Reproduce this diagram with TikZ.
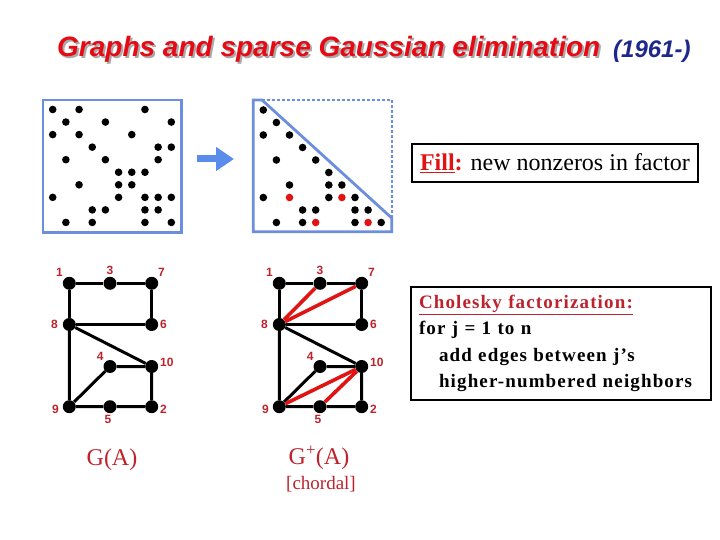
\documentclass[tikz,border=0pt]{standalone}
\usepackage{xcolor}
\usepackage{fontspec}
\setmainfont{Liberation Serif}
\setsansfont{Liberation Sans}
\newfontfamily\spacedserif[LetterSpace=6]{Liberation Serif}
\usetikzlibrary{arrows.meta,positioning,calc}
\definecolor{titlered}{RGB}{230, 10, 20}
\definecolor{shadowgray}{RGB}{170, 170, 170}
\definecolor{yearnavy}{RGB}{30, 40, 140}
\definecolor{labelred}{RGB}{190, 35, 45}
\definecolor{framblue}{RGB}{108, 142, 222}
\definecolor{arrowblue}{RGB}{90, 140, 235}
\definecolor{fillred}{RGB}{225, 20, 20}

\begin{document}
\begin{tikzpicture}[x=1pt, y=-1pt,
  vtx/.style={circle, fill=black, minimum size=13pt, inner sep=0pt},
  lbl/.style={font=\sffamily\bfseries\fontsize{12}{12}\selectfont, text=labelred, inner sep=1.5pt},
  edge/.style={line width=3pt, draw=black},
  filledge/.style={line width=3.6pt, draw=fillred},
  matbox/.style={rectangle, draw=framblue, line width=2.8pt, inner sep=0pt},
  matline/.style={draw=framblue, line width=2.8pt},
  notebox/.style={rectangle, draw=black, line width=2pt, inner sep=8pt},
  gname/.style={font=\fontsize{24}{26}\selectfont, text=labelred},
  bigarrow/.style={-{Triangle[length=18pt, width=23pt]}, line width=7pt, draw=arrowblue}
]
\useasboundingbox (0,0) rectangle (720,540);

% Title
\node[anchor=base west, inner sep=0pt, text=shadowgray, font=\sffamily\bfseries\itshape\fontsize{28}{30}\selectfont] (ttlsh) at (59,59) {Graphs and sparse Gaussian elimination};
\node[anchor=base west, inner sep=0pt, text=titlered, font=\sffamily\bfseries\itshape\fontsize{28}{30}\selectfont] (ttl) at (57,57) {Graphs and sparse Gaussian elimination};
\node[anchor=base west, inner sep=0pt, text=yearnavy, font=\sffamily\bfseries\itshape\fontsize{24}{26}\selectfont] (yr) at (613,58) {(1961-)};

% Matrix A
\node[matbox, minimum width=138.5pt, minimum height=132.5pt] (amat) at (112.25,166.25) {};
\foreach \r/\cols in {1/{1,3,8}, 2/{2,5,10}, 3/{1,3,7}, 4/{4,9,10}, 5/{2,5,9},
                      6/{6,7,8}, 7/{3,6,7}, 8/{1,6,8,9,10}, 9/{4,5,8,9}, 10/{2,4,8,10}}
  \foreach \c in \cols
    \fill (52.7+13.18*\c-13.18, 109.5+12.55*\r-12.55) circle (3.8pt);

% Factor L (lower triangle)
\draw[matline] (253.3,100) -- (262,100) -- (391.7,218) -- (391.7,231.7) -- (253.3,231.7) -- cycle;
\draw[matline, line width=2.4pt, dash pattern=on 3pt off 2pt] (262,100) -- (391.7,100) -- (391.7,218);
\foreach \r/\cols in {1/{1}, 2/{2}, 3/{1,3}, 4/{4}, 5/{2,5}, 6/{6}, 7/{3,6,7},
                      8/{1,6,8}, 9/{4,5,8,9}, 10/{2,4,8,10}}
  \foreach \c in \cols
    \fill (263.3+13.1*\c-13.1, 110+12.5*\r-12.5) circle (3.8pt);
\foreach \r/\c in {8/3, 8/7, 10/5, 10/9}
  \fill[fillred] (263.3+13.1*\c-13.1, 110+12.5*\r-12.5) circle (3.8pt);

% Arrow A -> L
\coordinate (arrs) at (197,159);
\coordinate (arre) at (234,159);
\draw[bigarrow] (arrs) -- (arre);

% Fill note
\node[notebox, minimum width=284pt, minimum height=38pt] (fill) at (555,163)
  {\fontsize{24}{26}\selectfont\textcolor{fillred}{\textbf{\underline{Fill}:}} new nonzeros in factor};

% Graphs G(A) and G+(A)
\foreach \g/\dx in {a/0, f/210}{
  \node[vtx, label={[lbl]above left:1}] (\g1) at (69.3+\dx,283.3) {};
  \node[vtx, label={[lbl]above:3}] (\g3) at (110+\dx,283.3) {};
  \node[vtx, label={[lbl]above right:7}] (\g7) at (151.7+\dx,283.3) {};
  \node[vtx, label={[lbl, xshift=-3pt]left:8}] (\g8) at (69.3+\dx,324.5) {};
  \node[vtx, label={[lbl]right:6}] (\g6) at (151.7+\dx,324.5) {};
  \node[vtx, label={[lbl]above left:4}] (\g4) at (110+\dx,366.5) {};
  \node[vtx, label={[lbl, yshift=4pt]right:10}] (\g10) at (151.7+\dx,366.5) {};
  \node[vtx, label={[lbl, yshift=-3pt, xshift=-2pt]left:9}] (\g9) at (69.3+\dx,406.7) {};
  \node[vtx, label={[lbl, xshift=-2pt]below:5}] (\g5) at (110+\dx,406.7) {};
  \node[vtx, label={[lbl, yshift=-3pt]right:2}] (\g2) at (151.7+\dx,406.7) {};
  \draw[edge] (\g1) -- (\g3) -- (\g7) -- (\g6) -- (\g8) -- (\g1);
  \draw[edge] (\g8) -- (\g10) -- (\g2) -- (\g5) -- (\g9) -- (\g8);
  \draw[edge] (\g9) -- (\g4) -- (\g10);
}

% Fill edges
\draw[filledge] (f8) -- (f3);
\draw[filledge] (f8) -- (f7);
\draw[filledge] (f9) -- (f10);
\draw[filledge] (f5) -- (f10);

\node[gname] (ga) at (112,460) {G(A)};
\node[gname] (gf) at (319,458) {G\textsuperscript{+}(A)};
\node[gname, font=\fontsize{19}{20}\selectfont] (chd) at (321,484) {[chordal]};

% Cholesky note
\node[notebox, minimum width=300pt, minimum height=113pt, text width=284pt, align=left,
      font=\spacedserif\bfseries\fontsize{19}{26.5}\selectfont] (chol) at (561,343.5)
  {\textcolor{labelred}{\underline{Cholesky factorization:}}\\
   for j = 1 to n\\
   \hspace*{20pt}add edges between j’s\\
   \hspace*{20pt}higher-numbered neighbors};

\end{tikzpicture}
\end{document}
